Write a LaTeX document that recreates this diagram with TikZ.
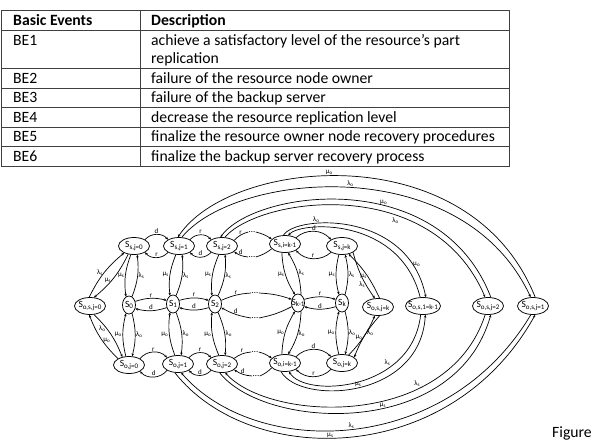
\documentclass[tikz,border=0pt]{standalone}
\usepackage{fontspec}
\setmainfont{Carlito}
\usetikzlibrary{arrows.meta, shapes.geometric, positioning}
\tikzset{
  tabline/.style = {draw=black!75, line width=0.7pt},
  tabtxt/.style  = {anchor=base west, inner sep=0pt, font=\fontsize{15.7}{19}\selectfont},
  tabhead/.style = {tabtxt, font=\fontsize{15.7}{19}\selectfont\bfseries},
  state/.style   = {draw, ellipse, line width=0.75pt, inner xsep=-2.5pt, inner ysep=0pt,
                    minimum height=17pt, minimum width=31pt},
  sstate/.style  = {state, minimum width=13pt, minimum height=18pt},
  edge/.style    = {-{Stealth[length=2.8pt,width=2.4pt]}, line width=0.7pt},
  plain/.style   = {line width=0.7pt},
  lbl/.style     = {font=\fontsize{7}{8}\selectfont, inner sep=0.7pt},
  dots/.style    = {font=\fontsize{9}{10}\selectfont, inner sep=0.5pt},
}
\newcommand{\stlab}[1]{{\fontsize{9.5}{10}\selectfont S}\raisebox{-1.4pt}{\fontsize{7}{8}\selectfont #1}}
\newcommand{\lamS}{λ\textsubscript{s}}
\newcommand{\muS}{μ\textsubscript{s}}
\newcommand{\lamO}{λ\textsubscript{o}}
\newcommand{\muO}{μ\textsubscript{o}}

\begin{document}
\begin{tikzpicture}[x=1pt,y=1pt]
  \useasboundingbox (0,0) rectangle (594,-440);

  % table of basic events
  \draw[tabline] (1,-10) rectangle (509,-166);
  \draw[tabline] (140,-10) -- (140,-166);
  \foreach \yy in {30,68,88,107,127,146}
    \draw[tabline] (1,-\yy) -- (509,-\yy);
  \node[tabhead] (hEv) at (13,-25) {Basic Events};
  \node[tabhead] (hDe) at (151,-25) {Description};
  \foreach \n/\yb/\txt in {1/45/achieve a satisfactory level of the resource’s part,
                           2/83/failure of the resource node owner,
                           3/102/failure of the backup server,
                           4/122/decrease the resource replication level,
                           5/141/finalize the resource owner node recovery procedures,
                           6/161/finalize the backup server recovery process}
  {
    \node[tabtxt] (be\n) at (13,-\yb) {BE\n};
    \node[tabtxt] (de\n) at (151,-\yb) {\txt};
  }
  \node[tabtxt] (de1b) at (151,-63) {replication};

  % states
  \node[state]  (Sos0)  at (90,-306)  {\stlab{o,s,j=0}};
  \node[state]  (Ss0)   at (134,-246) {\stlab{s,j=0}};
  \node[state]  (Ss1)   at (179,-246) {\stlab{s,j=1}};
  \node[state]  (Ss2)   at (222,-246) {\stlab{s,j=2}};
  \node[state]  (Sskm)  at (285,-244) {\stlab{s,i=k-1}};
  \node[state]  (Ssk)   at (342,-246) {\stlab{s,j=k}};
  \node[sstate] (S0)    at (129,-305) {\stlab{0}};
  \node[sstate] (S1)    at (173,-304) {\stlab{1}};
  \node[sstate] (S2)    at (215,-304) {\stlab{2}};
  \node[sstate] (Skm)   at (298,-303) {\stlab{k-1}};
  \node[sstate] (Sk)    at (342,-303) {\stlab{k}};
  \node[state]  (So0)   at (129,-365) {\stlab{o,j=0}};
  \node[state]  (So1)   at (178,-364) {\stlab{o,j=1}};
  \node[state]  (So2)   at (222,-364) {\stlab{o,j=2}};
  \node[state]  (Sokm)  at (285,-363) {\stlab{o,i=k-1}};
  \node[state]  (Sok)   at (342,-363) {\stlab{o,j=k}};
  \node[state]  (Sosk)  at (378,-307) {\stlab{o,s,j=k}};
  \node[state]  (Soskm) at (423,-306) {\stlab{o,s,1=k-1}};
  \node[state]  (Sos2)  at (488,-306) {\stlab{o,s,j=2}};
  \node[state]  (Sos1)  at (533,-306) {\stlab{o,s,j=1}};

  % dots
  \node[dots] (dtA) at (252,-232) {\ldots};
  \node[dots] (dtB) at (252,-257) {\ldots};
  \node[dots] (dtC) at (255,-293) {\ldots};
  \node[dots] (dtD) at (255,-318) {\ldots};
  \node[dots] (dtE) at (255,-352) {\ldots};
  \node[dots] (dtF) at (256,-376) {\ldots};

  % vertical lenses
  \foreach \a/\b in {Ss0/S0, Ss1/S1, Ss2/S2, Sskm/Skm, Ssk/Sk}
  {
    \draw[edge] (\a.250) to[bend right=14] node[lbl,left]{\muS} (\b.110);
    \draw[edge] (\b.70) to[bend right=14] node[lbl,right]{\lamS} (\a.290);
  }
  \foreach \a/\b in {S0/So0, S1/So1, S2/So2, Skm/Sokm, Sk/Sok}
  {
    \draw[edge] (\b.110) to[bend left=14] node[lbl,left]{\muO} (\a.250);
    \draw[edge] (\a.290) to[bend left=14] node[lbl,right]{\lamO} (\b.70);
  }

  % horizontal lenses
  \foreach \a/\b/\u/\l/\bnd in {Ss0/Ss1/d/r/50, Ss1/Ss2/r/d/50, Sskm/Ssk/d/r/45,
                                S0/S1/r/d/16, S1/S2/r/d/16, Skm/Sk/r/d/16,
                                So0/So1/r/d/50, So1/So2/r/d/50, Sokm/Sok/d/r/45}
  {
    \draw[edge] (\a.30) to[bend left=\bnd] node[lbl,above]{\u} (\b.150);
    \draw[edge] (\b.210) to[bend left=\bnd] node[lbl,above]{\l} (\a.330);
  }

  % towards and from the dots
  \draw[plain] (Ss2.25) to[bend left=15] node[lbl,above]{r} (dtA.west);
  \draw[edge] (dtB.west) to[bend left=15] node[lbl,above]{d} (Ss2.335);
  \draw[plain] (S2.30) to[bend left=10] node[lbl,above]{r} (dtC.west);
  \draw[edge] (dtD.west) to[bend left=10] node[lbl,above]{d} (S2.330);
  \draw[plain] (So2.25) to[bend left=15] node[lbl,above]{r} (dtE.west);
  \draw[edge] (dtF.west) to[bend left=15] node[lbl,above]{d} (So2.335);
  \draw[edge] (dtA.east) to[bend left=10] (Sskm.160);
  \draw[plain] (Sskm.200) to[bend left=10] (dtB.east);
  \draw[edge] (dtC.east) to[bend left=8] (Skm.150);
  \draw[plain] (Skm.210) to[bend left=8] (dtD.east);
  \draw[edge] (dtE.east) to[bend left=10] (Sokm.160);
  \draw[plain] (Sokm.200) to[bend left=10] (dtF.east);

  % both-failed states on the left and at k
  \draw[edge] (Sos0.95) to[bend left=12] node[lbl,left]{\lamS} (Ss0.215);
  \draw[edge] (Ss0.235) to[bend left=12] node[lbl,left,pos=.55]{\muS} (Sos0.65);
  \draw[edge] (Sos0.295) to[bend left=12] node[lbl,left,pos=.35]{\lamO} (So0.130);
  \draw[edge] (So0.150) to[bend left=12] node[lbl,right,pos=.45]{\muO} (Sos0.265);
  \draw[edge] (Ssk.330) to[bend right=10] node[lbl,left,pos=.7]{\lamS} (Sosk.110);
  \draw[edge] (Sosk.80) to[bend right=10] node[lbl,left,pos=.45]{\muS} (Ssk.310);
  \draw[edge] (Sok.50) to[bend right=10] node[lbl,right,pos=.6]{\lamO} (Sosk.250);
  \draw[edge] (Sosk.280) to[bend right=10] node[lbl,left,pos=.55]{\muO} (Sok.25);

  % long arcs over the top
  \draw[edge] (Sos1.76) .. controls (470,-134) and (230,-158) .. node[lbl,above,pos=.55]{\muO} (Ss1.97);
  \draw[edge] (Ss1.72) .. controls (235,-172) and (462,-150) .. node[lbl,above,pos=.5]{\lamO} (Sos1.105);
  \draw[edge] (Sos2.72) .. controls (440,-165) and (255,-190) .. node[lbl,above,pos=.4]{\muO} (Ss2.100);
  \draw[edge] (Ss2.72) .. controls (260,-197) and (432,-173) .. node[lbl,below left,pos=.66]{\lamO} (Sos2.108);
  \draw[edge] (Sskm.100) .. controls (296,-215) and (408,-210) ..
    node[lbl,above,pos=.3]{\lamO} node[lbl,right,pos=.85]{\muO} (Soskm.72);
  \draw[edge] (Soskm.108) .. controls (400,-217) and (302,-221) .. (Sskm.70);

  % long arcs under the bottom
  \draw[edge] (So1.250) .. controls (250,-468) and (450,-468) .. node[lbl,above,pos=.45]{\muS} (Sos1.284);
  \draw[edge] (Sos1.256) .. controls (445,-458) and (255,-458) .. node[lbl,above,pos=.5]{\lamS} (So1.290);
  \draw[edge] (So2.255) .. controls (265,-430) and (455,-440) .. node[lbl,above,pos=.57]{\muS} (Sos2.288);
  \draw[edge] (Sos2.252) .. controls (448,-430) and (270,-422) .. node[lbl,above left,pos=.3]{\lamS} (So2.290);
  \draw[edge] (Sokm.245) .. controls (300,-405) and (420,-400) .. node[lbl,above,pos=.5]{\muS} (Soskm.285);
  \draw[edge] (Soskm.255) .. controls (412,-392) and (305,-398) .. node[lbl,above left,pos=.3]{\lamS} (Sokm.295);

  \node[tabtxt] (fig) at (552,-437) {Figure};
\end{tikzpicture}
\end{document}
